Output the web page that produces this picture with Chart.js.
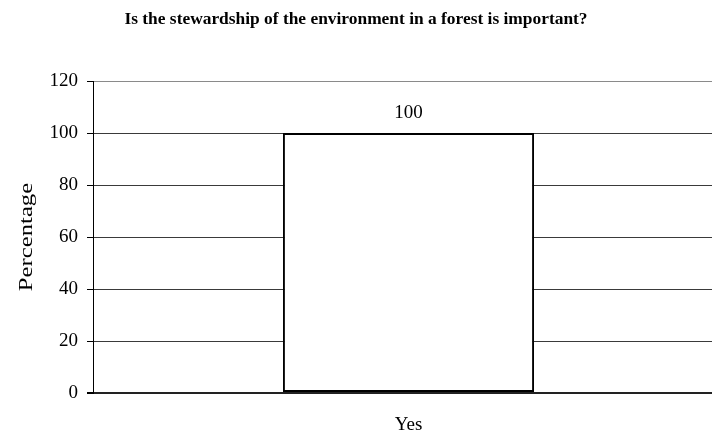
<!DOCTYPE html>
<html>
<head>
<meta charset="utf-8">
<script src="https://cdn.jsdelivr.net/npm/chart.js@4/dist/chart.umd.min.js"></script>
<style>
  html, body { margin: 0; padding: 0; background: #fff; overflow: hidden; }
  #wrap { position: absolute; left: 0; top: 0; width: 724px; height: 436px; }
</style>
</head>
<body>
<div id="wrap"><canvas id="grafico" width="724" height="436"></canvas></div>
<script>
// dados do gráfico
var categorias = ["Yes"];
var valores = [100];
var ticksY = [0, 20, 40, 60, 80, 100, 120];
var titulo = "Is the stewardship of the environment in a forest is important?";
var tituloY = "Percentage";

var serif = "'Liberation Serif', 'Times New Roman', serif";

// titulo e rótulo do eixo y desenhados à mão
var pluginTitulo = {
  id: "tituloPlugin",
  afterDraw: function(chart) {
    var ctx = chart.ctx;
    var area = chart.chartArea;
    ctx.save();
    ctx.font = "bold 17.4px " + serif;
    ctx.fillStyle = "#000";
    ctx.textAlign = "center";
    ctx.textBaseline = "middle";
    ctx.fillText(titulo, 356, 20);
    ctx.restore();

    ctx.save();
    ctx.translate(27, (area.top + area.bottom) / 2);
    ctx.scale(1, 1.3);
    ctx.rotate(-Math.PI / 2);
    ctx.font = "19px " + serif;
    ctx.fillStyle = "#000";
    ctx.textAlign = "center";
    ctx.textBaseline = "middle";
    ctx.fillText(tituloY, 0, 0);
    ctx.restore();
  }
};

// valor em cima da barra
var pluginValores = {
  id: "valoresPlugin",
  afterDatasetsDraw: function(chart) {
    var ctx = chart.ctx;
    var meta = chart.getDatasetMeta(0);
    ctx.save();
    ctx.font = "19px " + serif;
    ctx.fillStyle = "#000";
    ctx.textAlign = "center";
    ctx.textBaseline = "middle";
    meta.data.forEach(function(bar, i) {
      ctx.fillText(String(valores[i]), bar.x, bar.y - 19.5);
    });
    ctx.restore();
  }
};

var ctx = document.getElementById("grafico");

var chartGraph = new Chart(ctx, {
  type: "bar",
  data: {
    labels: categorias,
    datasets: [{
      data: valores,
      backgroundColor: "#ffffff",
      borderColor: "#000000",
      borderWidth: 2,
      borderSkipped: false,
      categoryPercentage: 0.398,
      barPercentage: 1.0
    }]
  },
  options: {
    responsive: false,
    animation: false,
    layout: { padding: { top: 81, left: 0, right: 0, bottom: 0 } },
    plugins: {
      legend: { display: false },
      title: { display: false },
      tooltip: { enabled: false }
    },
    scales: {
      x: {
        afterFit: function(scale) { scale.height = 43; },
        grid: { display: false, drawTicks: false },
        border: { display: false },
        ticks: {
          color: "#000",
          font: { family: serif, size: 19 },
          padding: 21
        }
      },
      y: {
        min: 0,
        max: 120,
        afterFit: function(scale) { scale.width = 93; },
        afterBuildTicks: function(axis) {
          axis.ticks = ticksY.map(function(v) { return { value: v }; });
        },
        grid: {
          color: function(c) {
            if (c.tick && c.tick.value === 120) return "#8a8a8a";
            if (c.tick && c.tick.value === 0) return "#222222";
            return "#3a3a3a";
          },
          lineWidth: function(c) {
            return (c.tick && c.tick.value === 0) ? 2 : 1;
          },
          tickColor: "#000",
          tickLength: 6
        },
        border: { display: true, color: "#000", width: 1 },
        ticks: {
          color: "#000",
          font: { family: serif, size: 19 },
          padding: 9
        }
      }
    }
  },
  plugins: [pluginTitulo, pluginValores]
});
</script>
</body>
</html>
